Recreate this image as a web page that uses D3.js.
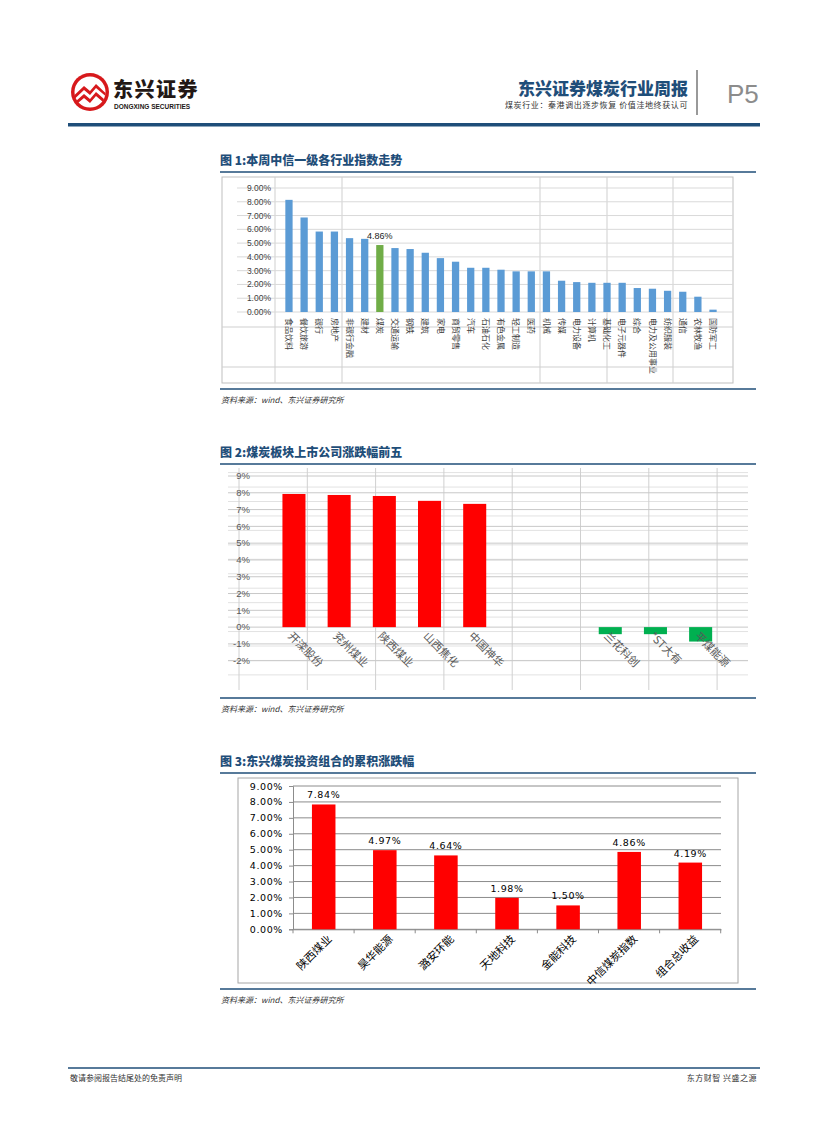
<!DOCTYPE html>
<html>
<head>
<meta charset="utf-8">
<script src="https://cdn.jsdelivr.net/npm/d3@7"></script>
<style>
  body { margin: 0; background: #fff; }
  svg { display: block; font-family: "Noto Sans CJK SC", "Noto Sans", sans-serif; }
</style>
</head>
<body>
<svg id="page"></svg>
<script>
// chart 1: 中信一级行业周涨跌幅 (%)
const industries = ["食品饮料","餐饮旅游","银行","房地产","非银行金融","建材","煤炭","交通运输","钢铁","建筑",
  "家电","商贸零售","汽车","石油石化","有色金属","轻工制造","医药","机械","传媒","电力设备",
  "计算机","基础化工","电子元器件","综合","电力及公用事业","纺织服装","通信","农林牧渔","国防军工"];
const industryValues = [8.14,6.86,5.84,5.84,5.36,5.31,4.86,4.64,4.57,4.30,
  3.91,3.65,3.21,3.21,3.07,2.95,2.95,2.95,2.27,2.17,
  2.12,2.12,2.12,1.74,1.69,1.54,1.47,1.11,0.17];
const industryTicks = [0,1,2,3,4,5,6,7,8,9];
const highlight = "煤炭";

// chart 2: 煤炭板块涨跌幅前五 / 后三 (%)
const stocks = ["开滦股份","兖州煤业","陕西煤业","山西焦化","中国神华","","  ","兰花科创","*ST大有","平煤能源"];
const stockValues = [7.93,7.87,7.81,7.52,7.34,null,null,-0.42,-0.42,-0.86];
const stockTicks = [-2,-1,0,1,2,3,4,5,6,7,8,9];

// chart 3: 东兴煤炭投资组合累积涨跌幅 (%)
const holdings = ["陕西煤业","昊华能源","潞安环能","天地科技","金能科技","中信煤炭指数","组合总收益"];
const holdingValues = [7.84,4.97,4.64,1.98,1.50,4.86,4.19];
const holdingTicks = [0,1,2,3,4,5,6,7,8,9];

const NAVY = "#1f4e79";
const W = 827, H = 1122;
const svg = d3.select("#page").attr("width", W).attr("height", H);

// ---------- header ----------
const logo = svg.append("g").attr("transform", "translate(90,92)");
logo.append("circle").attr("r", 19).attr("fill", "#d7191c");
logo.append("circle").attr("r", 15.5).attr("fill", "#fff");
logo.append("path").attr("d", "M-15.5,3 L-6,-6 L0,-1 L6,-8 L15.5,1 L15.5,4 L6,-4 L0,3 L-6,-2 L-15.5,7 Z").attr("fill", "#d7191c");
logo.append("path").attr("d", "M-14,9 L-6,2 L0,7 L6,0 L14,7 L13,10 L6,4 L0,11 L-6,6 L-12,11 Z").attr("fill", "#d7191c");
svg.append("text").attr("x", 113).attr("y", 97).attr("font-size", 20).attr("font-weight", 900)
  .attr("fill", "#231815").attr("letter-spacing", 1.5).text("东兴证券");
svg.append("text").attr("x", 114).attr("y", 109).attr("font-family", "Liberation Sans, Arial").attr("font-size", 6.5)
  .attr("font-weight", "bold").attr("fill", "#231815").text("DONGXING SECURITIES");

svg.append("text").attr("x", 688).attr("y", 95).attr("text-anchor", "end").attr("font-size", 17)
  .attr("font-weight", 900).attr("fill", NAVY).text("东兴证券煤炭行业周报");
svg.append("text").attr("x", 688).attr("y", 108).attr("text-anchor", "end").attr("font-size", 8)
  .attr("fill", "#333").attr("letter-spacing", 0.6).text("煤炭行业：秦港调出逐步恢复 价值洼地终获认可");
svg.append("line").attr("x1", 697).attr("x2", 697).attr("y1", 70).attr("y2", 115)
  .attr("stroke", "#999").attr("stroke-width", 2);
svg.append("text").attr("x", 727).attr("y", 103).attr("font-family", "Liberation Sans, Arial").attr("font-size", 26)
  .attr("fill", "#8c8c8c").text("P5");
svg.append("rect").attr("x", 68).attr("y", 123).attr("width", 692).attr("height", 3.5).attr("fill", NAVY);

function title(y, txt) {
  svg.append("text").attr("x", 220).attr("y", y).attr("font-size", 12).attr("font-weight", 900)
    .attr("fill", NAVY).text(txt);
  svg.append("line").attr("x1", 220).attr("x2", 756).attr("y1", y + 7).attr("y2", y + 7)
    .attr("stroke", NAVY).attr("stroke-width", 1.5);
}
function source(lineY) {
  svg.append("line").attr("x1", 220).attr("x2", 756).attr("y1", lineY).attr("y2", lineY)
    .attr("stroke", NAVY).attr("stroke-width", 1.5);
  svg.append("text").attr("x", 221).attr("y", lineY + 14).attr("font-size", 8).attr("font-style", "italic")
    .attr("fill", "#333").text("资料来源：wind、东兴证券研究所");
}

// ---------- chart 1 ----------
title(165, "图 1:本周中信一级各行业指数走势");
const c1 = svg.append("g");
c1.append("rect").attr("x", 222).attr("y", 177).attr("width", 511).attr("height", 206)
  .attr("fill", "none").attr("stroke", "#bfbfbf");
const y1 = d3.scaleLinear().domain([0, 9]).range([312, 188]);
const x1 = d3.scaleBand().domain(industries).range([281.4, 720.6]).paddingInner(0.52).paddingOuter(0.26);
// sheet grid behind the chart
[275, 342, 540, 607, 673].forEach(x => c1.append("line").attr("x1", x).attr("x2", x)
  .attr("y1", 177).attr("y2", 383).attr("stroke", "#cfcfcf"));
[327, 367].forEach(y => c1.append("line").attr("x1", 222).attr("x2", 733)
  .attr("y1", y).attr("y2", y).attr("stroke", "#cfcfcf"));
c1.selectAll(".g1").data(industryTicks).join("line")
  .attr("x1", 237).attr("x2", 733).attr("y1", d => y1(d)).attr("y2", d => y1(d))
  .attr("stroke", "#d9d9d9");
c1.selectAll(".t1").data(industryTicks).join("text")
  .attr("x", 271).attr("y", d => y1(d)).attr("dy", "0.35em").attr("text-anchor", "end")
  .attr("font-family", "Liberation Sans, Arial").attr("font-size", 8.5).attr("fill", "#404040")
  .text(d => d.toFixed(2) + "%");
c1.selectAll(".b1").data(industries).join("rect")
  .attr("x", d => x1(d)).attr("width", x1.bandwidth())
  .attr("y", (d, i) => y1(industryValues[i])).attr("height", (d, i) => y1(0) - y1(industryValues[i]))
  .attr("fill", d => d === highlight ? "#70ad47" : "#5b9bd5");
c1.selectAll(".l1").data(industries).join("text")
  .attr("transform", d => `translate(${x1(d) + x1.bandwidth() / 2},318) rotate(90)`)
  .attr("dy", "0.35em").attr("font-size", 8).attr("fill", "#404040").text(d => d);
const hi = industries.indexOf(highlight);
c1.append("text").attr("x", x1(highlight) + x1.bandwidth() / 2).attr("y", y1(industryValues[hi]) - 6)
  .attr("text-anchor", "middle").attr("font-family", "Liberation Sans, Arial").attr("font-size", 9)
  .attr("fill", "#222").text(industryValues[hi].toFixed(2) + "%");
source(389);

// ---------- chart 2 ----------
title(457, "图 2:煤炭板块上市公司涨跌幅前五");
const c2 = svg.append("g");
const y2 = d3.scaleLinear().domain([-2, 9]).range([660.7, 476]);
const x2 = d3.scaleBand().domain(stocks).range([260.3, 734.3]).padding(0.49);
d3.range(0, 15).forEach(k => c2.append("line").attr("x1", 228).attr("x2", 748)
  .attr("y1", 472.6 + 14.45 * k).attr("y2", 472.6 + 14.45 * k).attr("stroke", "#e2e2e2"));
d3.range(0, 8).forEach(k => c2.append("line").attr("x1", 239 + 68.3 * k).attr("x2", 239 + 68.3 * k)
  .attr("y1", 468).attr("y2", 690).attr("stroke", "#d0d0d0"));
c2.selectAll(".g2").data(stockTicks).join("line")
  .attr("x1", 228).attr("x2", 748).attr("y1", d => y2(d)).attr("y2", d => y2(d))
  .attr("stroke", "#c8c8c8");
c2.selectAll(".t2").data(stockTicks).join("text")
  .attr("x", 250).attr("y", d => y2(d)).attr("dy", "0.35em").attr("text-anchor", "end")
  .attr("font-family", "Liberation Sans, Arial").attr("font-size", 9.5).attr("fill", "#595959")
  .text(d => d + "%");
c2.selectAll(".b2").data(stocks.filter((d, i) => stockValues[i] !== null)).join("rect")
  .attr("x", d => x2(d)).attr("width", x2.bandwidth())
  .attr("y", d => y2(Math.max(0, stockValues[stocks.indexOf(d)])))
  .attr("height", d => Math.abs(y2(stockValues[stocks.indexOf(d)]) - y2(0)))
  .attr("fill", d => stockValues[stocks.indexOf(d)] >= 0 ? "#ff0000" : "#00b050");
c2.selectAll(".l2").data(stocks.filter(d => d.trim() !== "")).join("text")
  .attr("transform", d => `translate(${x2(d) + x2.bandwidth() / 2 - 4},634) rotate(45)`)
  .attr("dy", "0.35em").attr("font-size", 11).attr("fill", "#595959").text(d => d);
source(698);

// ---------- chart 3 ----------
title(766, "图 3:东兴煤炭投资组合的累积涨跌幅");
const c3 = svg.append("g");
c3.append("rect").attr("x", 238).attr("y", 778).attr("width", 500).attr("height", 205)
  .attr("fill", "none").attr("stroke", "#a6a6a6");
const y3 = d3.scaleLinear().domain([0, 9]).range([929.3, 786]);
const x3 = d3.scaleBand().domain(holdings).range([293, 721]).paddingInner(0.615).paddingOuter(0.31);
c3.selectAll(".g3").data(holdingTicks).join("line")
  .attr("x1", 293).attr("x2", 721).attr("y1", d => y3(d)).attr("y2", d => y3(d))
  .attr("stroke", "#8c8c8c");
const yAxis3 = d3.axisLeft(y3).tickValues(holdingTicks).tickSize(4).tickFormat(d => d.toFixed(2) + "%");
const ya = c3.append("g").attr("transform", "translate(293,0)").call(yAxis3);
ya.select(".domain").attr("stroke", "#8c8c8c");
ya.selectAll(".tick line").attr("stroke", "#8c8c8c");
ya.selectAll("text").attr("font-family", "DejaVu Sans").attr("font-size", 9.5).attr("fill", "#000")
  .attr("letter-spacing", 0.6).attr("x", -10);
const xAxis3 = d3.axisBottom(x3).tickSize(0).tickFormat("");
const xa = c3.append("g").attr("transform", `translate(0,${y3(0)})`).call(xAxis3);
xa.select(".domain").attr("stroke", "#8c8c8c");
const step3 = x3.step();
c3.selectAll(".tk3").data(d3.range(holdings.length + 1)).join("line")
  .attr("x1", i => 293 + i * step3).attr("x2", i => 293 + i * step3)
  .attr("y1", y3(0)).attr("y2", y3(0) + 4).attr("stroke", "#8c8c8c");
c3.selectAll(".b3").data(holdings).join("rect")
  .attr("x", d => x3(d)).attr("width", x3.bandwidth())
  .attr("y", (d, i) => y3(holdingValues[i])).attr("height", (d, i) => y3(0) - y3(holdingValues[i]))
  .attr("fill", "#ff0000");
c3.selectAll(".v3").data(holdings).join("text")
  .attr("x", d => x3(d) + x3.bandwidth() / 2).attr("y", (d, i) => y3(holdingValues[i]) - 6)
  .attr("text-anchor", "middle").attr("font-family", "DejaVu Sans").attr("font-size", 9.5)
  .attr("letter-spacing", 0.6).attr("fill", "#000").text((d, i) => holdingValues[i].toFixed(2) + "%");
c3.selectAll(".l3").data(holdings).join("text")
  .attr("transform", d => `translate(${x3(d) + x3.bandwidth() / 2 + 6},937) rotate(-45)`)
  .attr("text-anchor", "end").attr("dy", "0.35em").attr("font-size", 11).attr("fill", "#000").text(d => d);
source(989);

// ---------- footer ----------
svg.append("line").attr("x1", 68).attr("x2", 760).attr("y1", 1068).attr("y2", 1068)
  .attr("stroke", NAVY).attr("stroke-width", 1.5);
svg.append("text").attr("x", 70).attr("y", 1081).attr("font-size", 8).attr("fill", "#333")
  .text("敬请参阅报告结尾处的免责声明");
svg.append("text").attr("x", 757).attr("y", 1081).attr("text-anchor", "end").attr("font-size", 8)
  .attr("fill", "#333").attr("letter-spacing", 0.5).text("东方财智 兴盛之源");
</script>
</body>
</html>
